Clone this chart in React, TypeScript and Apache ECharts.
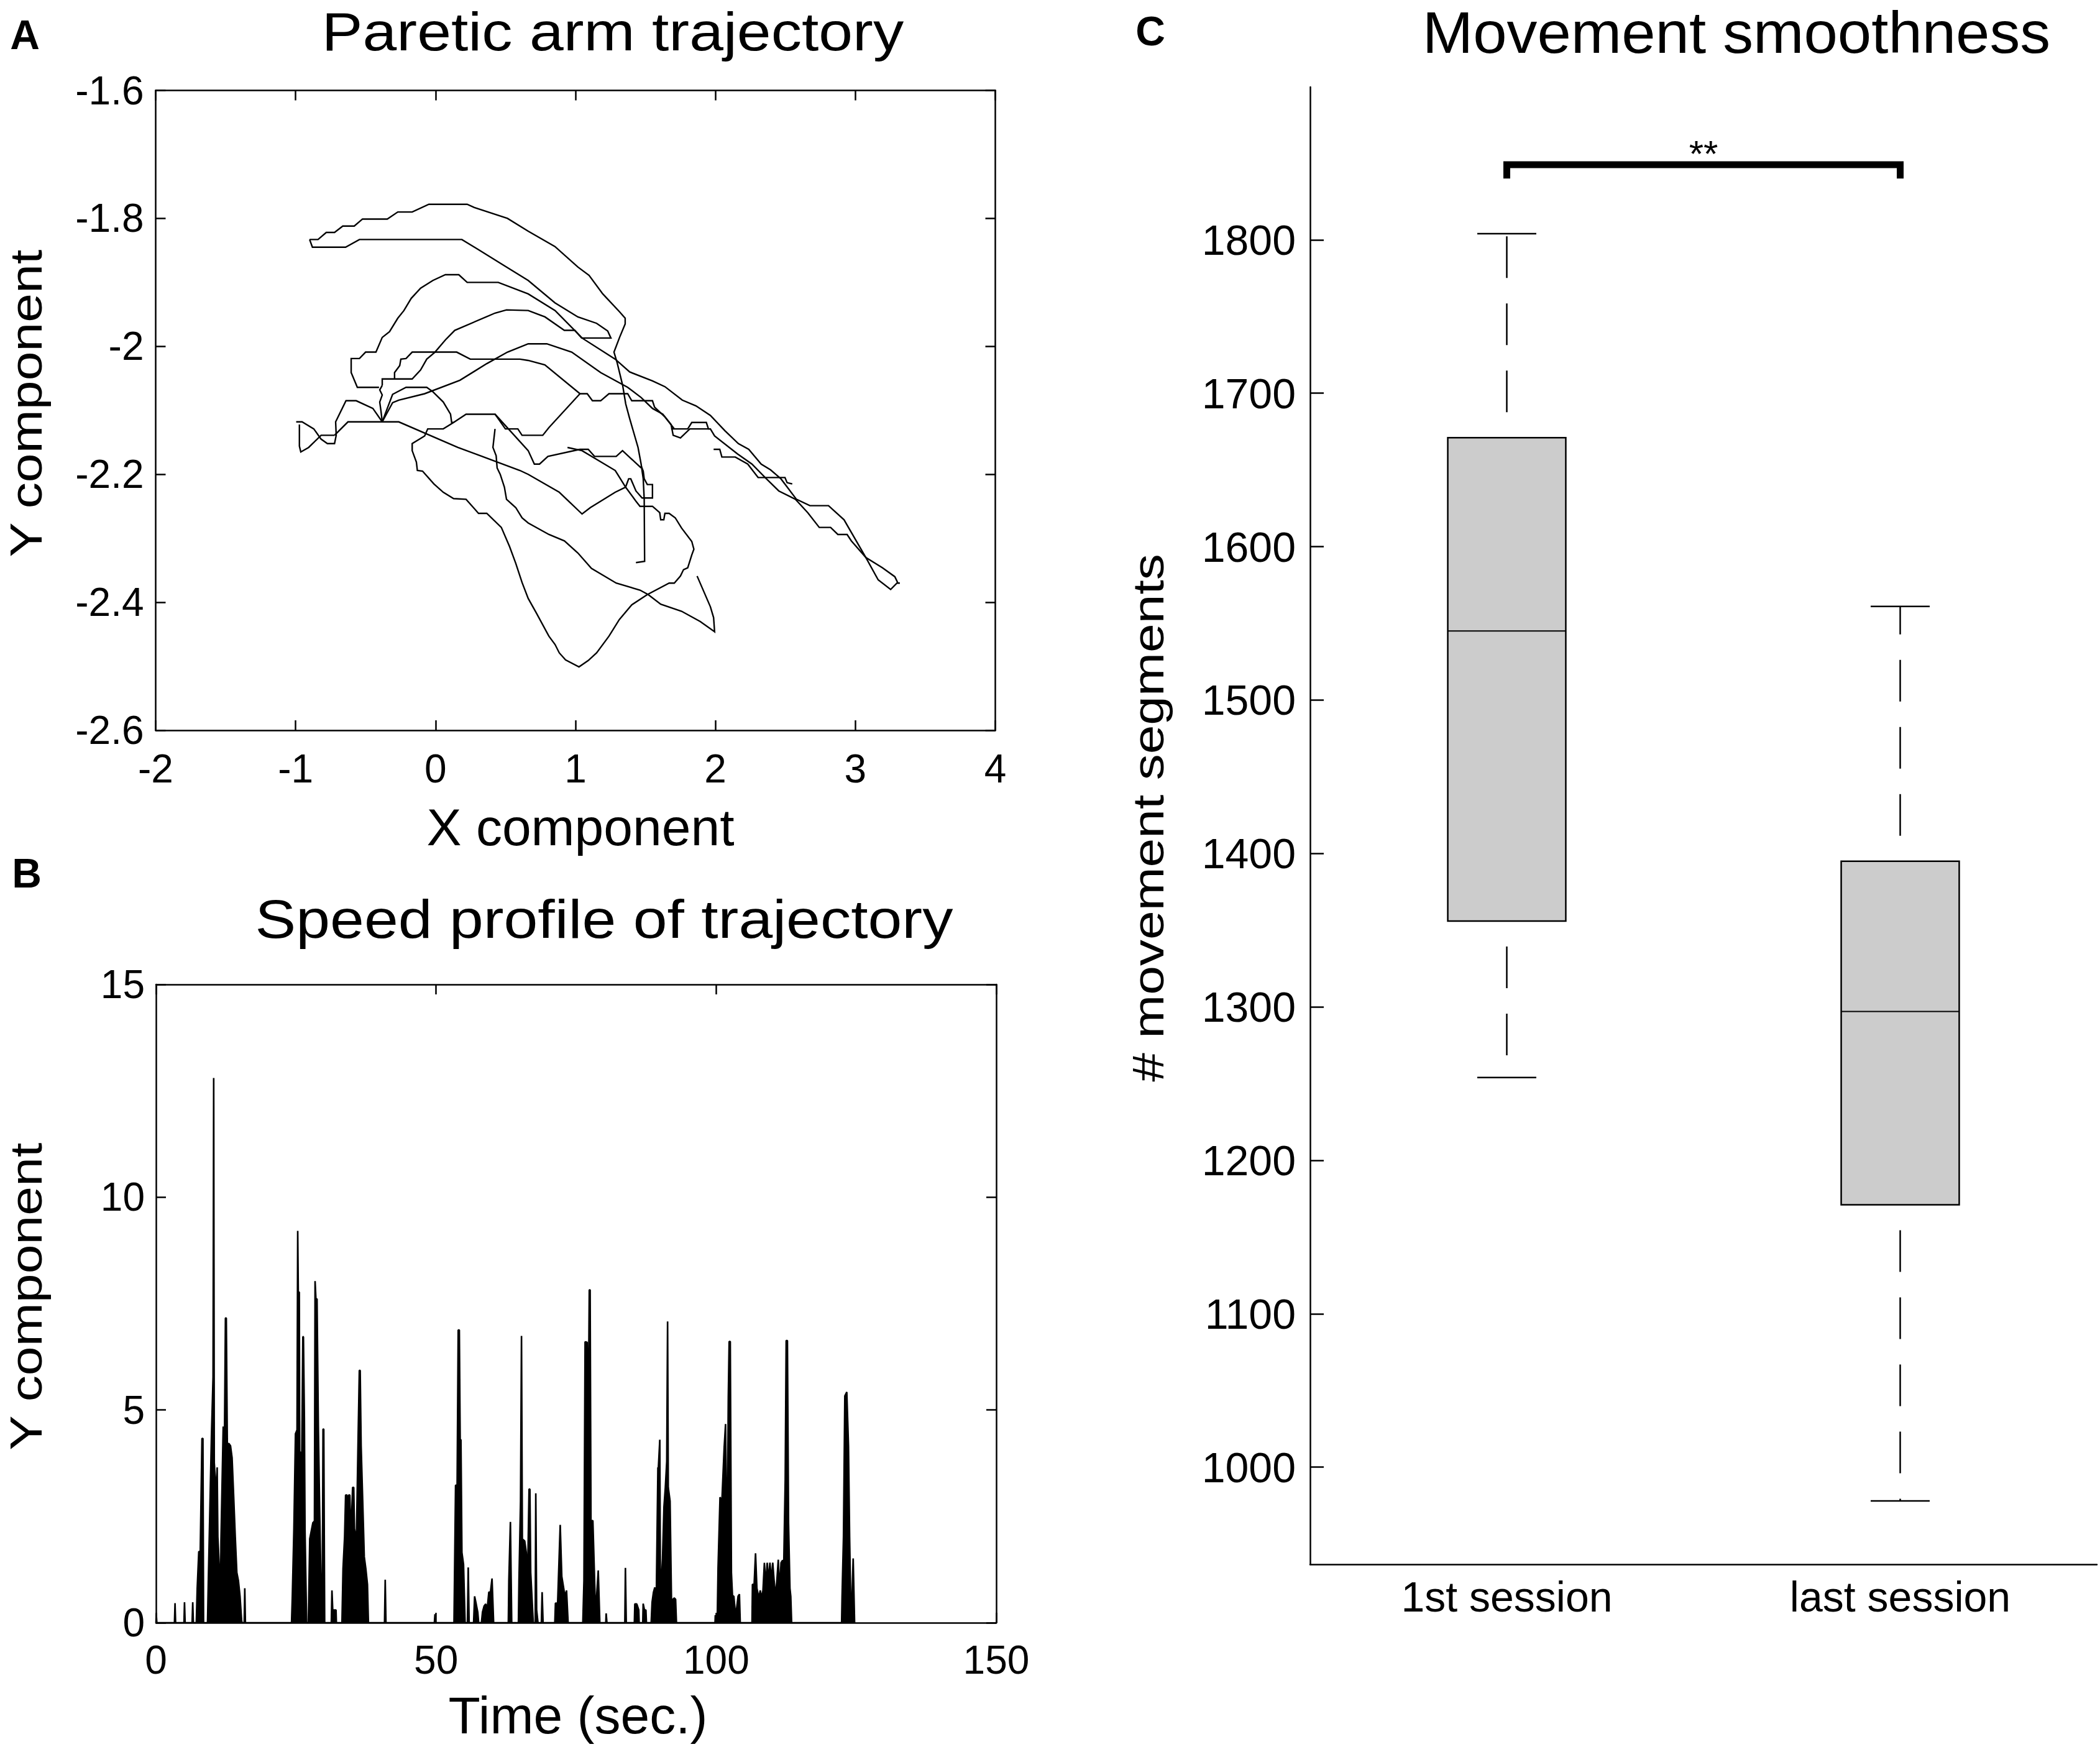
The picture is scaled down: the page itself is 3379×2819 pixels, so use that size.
import React, { useEffect, useRef } from 'react';
import * as echarts from 'echarts';

const W = 3379;
const H = 2819;
const FONT = '"Liberation Sans", Arial, Helvetica, sans-serif';

// ---------------- Panel A : paretic arm trajectory (x, y) ----------------
const trajTopArc = [[-0.900,-1.833],[-0.840,-1.833],[-0.781,-1.822],[-0.722,-1.822],[-0.663,-1.812],[-0.581,-1.812],[-0.522,-1.801],[-0.345,-1.801],[-0.270,-1.790],[-0.167,-1.790],[-0.048,-1.778],[0.226,-1.778],[0.277,-1.783],[0.514,-1.800],[0.662,-1.820],[0.853,-1.844],[1.017,-1.876],[1.097,-1.889],[1.195,-1.918],[1.315,-1.946],[1.355,-1.956],[1.355,-1.965],[1.315,-1.986],[1.275,-2.009],[1.297,-2.025],[1.337,-2.061],[1.359,-2.090],[1.386,-2.112],[1.447,-2.158],[1.469,-2.184],[1.484,-2.207],[1.491,-2.239],[1.494,-2.336],[1.432,-2.338]];
const trajTopLower = [[-0.900,-1.833],[-0.880,-1.845],[-0.643,-1.845],[-0.544,-1.833],[0.188,-1.833],[0.307,-1.849],[0.484,-1.873],[0.662,-1.897],[0.853,-1.932],[1.017,-1.954],[1.151,-1.964],[1.230,-1.976],[1.253,-1.987],[1.044,-1.987],[0.995,-1.975],[0.920,-1.975],[0.782,-1.954],[0.662,-1.944],[0.507,-1.943],[0.425,-1.948],[0.137,-1.975],[0.070,-1.990],[-0.004,-2.009],[-0.063,-2.020],[-0.107,-2.037],[-0.167,-2.051],[-0.381,-2.051],[-0.381,-2.061]];
const trajArcTwo = [[-0.404,-2.064],[-0.559,-2.064],[-0.603,-2.041],[-0.603,-2.019],[-0.544,-2.019],[-0.500,-2.009],[-0.426,-2.009],[-0.381,-1.986],[-0.329,-1.977],[-0.270,-1.956],[-0.226,-1.944],[-0.174,-1.925],[-0.107,-1.909],[-0.019,-1.897],[0.070,-1.888],[0.166,-1.888],[0.226,-1.900],[0.448,-1.900],[0.662,-1.918],[0.854,-1.944],[1.003,-1.977],[1.047,-1.987],[1.284,-2.020],[1.387,-2.040],[1.550,-2.054],[1.639,-2.063],[1.763,-2.084],[1.861,-2.093],[1.964,-2.108],[2.068,-2.132],[2.164,-2.152],[2.238,-2.161],[2.327,-2.184],[2.394,-2.193],[2.468,-2.207],[2.579,-2.239],[2.675,-2.249],[2.808,-2.249],[2.919,-2.271],[3.075,-2.330],[3.163,-2.365],[3.252,-2.380],[3.297,-2.370],[3.318,-2.370]];
const trajArcFour = [[-0.293,-2.051],[-0.293,-2.041],[-0.256,-2.030],[-0.248,-2.020],[-0.211,-2.019],[-0.167,-2.009],[0.151,-2.009],[0.248,-2.020],[0.603,-2.020],[0.662,-2.022],[0.781,-2.029],[1.032,-2.074],[1.084,-2.074],[1.121,-2.085],[1.180,-2.085],[1.239,-2.074],[1.373,-2.074],[1.402,-2.085],[1.550,-2.085],[1.565,-2.095],[1.638,-2.110],[1.706,-2.129]];
const trajArcFive = [[-0.381,-2.118],[-0.307,-2.088],[-0.263,-2.084],[-0.078,-2.074],[0.174,-2.053],[0.366,-2.027],[0.514,-2.009],[0.662,-1.996],[0.795,-1.996],[0.973,-2.009],[1.180,-2.041],[1.373,-2.064],[1.469,-2.080],[1.550,-2.097],[1.624,-2.106],[1.683,-2.122],[1.698,-2.139],[1.750,-2.143],[1.817,-2.129],[1.964,-2.129],[1.994,-2.140],[2.157,-2.168],[2.261,-2.184],[2.364,-2.207],[2.453,-2.226],[2.572,-2.239],[2.660,-2.260],[2.742,-2.283],[2.823,-2.283],[2.875,-2.294],[2.941,-2.294],[2.971,-2.304],[3.075,-2.330],[3.193,-2.346],[3.282,-2.360],[3.304,-2.370]];
const trajZigzag = [[1.987,-2.161],[2.031,-2.161],[2.046,-2.173],[2.142,-2.173],[2.231,-2.184],[2.305,-2.205],[2.497,-2.205],[2.512,-2.213],[2.549,-2.215]];
const trajMiddle = [[-0.722,-2.139],[-0.626,-2.118],[-0.263,-2.118],[0.159,-2.158],[0.321,-2.171],[0.603,-2.194],[0.662,-2.200],[0.884,-2.228],[1.047,-2.262],[1.106,-2.252],[1.284,-2.228],[1.358,-2.220],[1.380,-2.207],[1.395,-2.207],[1.432,-2.226],[1.476,-2.237],[1.550,-2.237],[1.550,-2.216],[1.513,-2.216],[1.491,-2.207],[1.484,-2.195],[1.469,-2.187]];
const trajBulb = [[1.032,-2.074],[0.810,-2.127],[0.766,-2.139],[0.618,-2.139],[0.588,-2.129],[0.499,-2.129],[0.425,-2.106],[0.218,-2.106],[0.129,-2.119],[0.055,-2.129],[-0.056,-2.129],[-0.078,-2.140],[-0.167,-2.152],[-0.167,-2.163],[-0.137,-2.181],[-0.130,-2.194],[-0.093,-2.195],[-0.012,-2.215],[0.055,-2.228],[0.129,-2.238],[0.218,-2.239],[0.307,-2.261],[0.366,-2.261],[0.470,-2.283],[0.529,-2.313],[0.573,-2.339],[0.618,-2.369],[0.662,-2.394],[0.721,-2.417],[0.810,-2.453],[0.854,-2.466],[0.884,-2.479],[0.929,-2.490],[1.025,-2.501],[1.091,-2.491],[1.151,-2.479],[1.239,-2.453],[1.313,-2.427],[1.402,-2.404],[1.513,-2.388],[1.669,-2.370],[1.706,-2.370],[1.750,-2.359],[1.772,-2.349],[1.802,-2.346],[1.831,-2.326],[1.846,-2.317],[1.831,-2.305],[1.758,-2.284],[1.713,-2.268],[1.669,-2.261],[1.639,-2.261],[1.631,-2.271],[1.609,-2.271],[1.602,-2.260],[1.550,-2.250],[1.461,-2.250],[1.432,-2.242],[1.358,-2.220],[1.284,-2.194],[1.047,-2.163],[0.943,-2.158]];
const trajLowerLoop = [[0.425,-2.129],[0.410,-2.158],[0.433,-2.171],[0.440,-2.190],[0.462,-2.200],[0.492,-2.220],[0.507,-2.239],[0.573,-2.252],[0.618,-2.268],[0.662,-2.276],[0.810,-2.294],[0.921,-2.304],[1.017,-2.323],[1.114,-2.347],[1.291,-2.370],[1.461,-2.381],[1.520,-2.388],[1.609,-2.403],[1.758,-2.414],[1.891,-2.430],[1.994,-2.446],[1.987,-2.424],[1.964,-2.407],[1.869,-2.359]];
const trajDiagonal = [[0.425,-2.106],[0.662,-2.163],[0.706,-2.184],[0.743,-2.184],[0.803,-2.172],[1.032,-2.161],[1.091,-2.161],[1.136,-2.172],[1.291,-2.172],[1.336,-2.163],[1.469,-2.190]];
const trajHookF = [[-0.381,-2.118],[-0.345,-2.097],[-0.307,-2.075],[-0.211,-2.064],[-0.063,-2.064],[-0.019,-2.071],[0.055,-2.087],[0.107,-2.106],[0.115,-2.119],[0.129,-2.119]];
const trajHookG = [[-0.381,-2.118],[-0.390,-2.101],[-0.399,-2.087],[-0.381,-2.076],[-0.399,-2.068],[-0.381,-2.061]];
const trajLeftBump = [[-0.996,-2.118],[-0.954,-2.118],[-0.870,-2.129],[-0.818,-2.145],[-0.773,-2.152],[-0.722,-2.152],[-0.710,-2.139],[-0.714,-2.118],[-0.640,-2.085],[-0.567,-2.085],[-0.448,-2.097],[-0.381,-2.118]];
const trajLeftTail = [[-0.973,-2.122],[-0.973,-2.156],[-0.963,-2.165],[-0.907,-2.158],[-0.818,-2.139],[-0.722,-2.139]];
const trajSmall = [[1.683,-2.129],[1.802,-2.129],[1.831,-2.119],[1.935,-2.119],[1.950,-2.129],[1.964,-2.129]];
const trajectoryStrokes = [trajTopArc, trajTopLower, trajArcTwo, trajArcFour, trajArcFive, trajZigzag, trajMiddle, trajBulb, trajLowerLoop, trajDiagonal, trajHookF, trajHookG, trajLeftBump, trajLeftTail, trajSmall];

const aXRange = [-2, 4, 1];
const aYRange = [-2.6, -1.6, 0.2];

// ---------------- Panel B : speed profile (time sec, speed) ----------------
const speedProfile = [
  [0,0],[0.05,0.2],[0.15,0],
  [3.3,0],[3.4,0.46],[3.5,0],[5.0,0],[5.09,0.48],[5.2,0],[6.45,0],[6.56,0.48],[6.67,0],
  [7.2,0],[7.36,0.81],[7.64,1.67],[7.9,1.67],[8.21,4.33],[8.38,4.33],[8.49,0],
  [9.2,0],[9.34,0.95],[9.9,4.39],[10.19,5.78],[10.30,12.8],[10.40,3.76],[10.75,3.04],[10.92,3.65],[11.04,2.02],[11.32,1.27],[11.49,0],
  [11.55,0],[11.6,1.92],[12.0,4.61],[12.22,4.26],[12.4,7.16],[12.55,7.16],[12.73,4.21],[13.02,4.21],[13.3,4.16],[13.58,3.88],[13.87,2.95],[14.15,2.02],[14.43,1.18],[14.71,0.99],[15.0,0.62],[15.28,0.06],[15.35,0],
  [15.75,0],[15.85,0.81],[15.96,0],
  [24.2,0],[24.34,0.62],[24.62,2.21],[24.9,4.44],[25.18,4.53],[25.3,9.21],[25.4,7.77],[25.58,7.77],[25.65,4.02],[26.03,3.98],[26.22,6.72],[26.32,6.72],[26.49,4.81],[26.6,2.21],[26.88,0],
  [27.2,0],[27.45,1.97],[28.01,2.35],[28.29,2.39],[28.4,8.03],[28.55,7.61],[28.75,7.61],[28.98,4.63],[29.2,2.77],[29.43,1.09],[29.71,1.09],[29.82,4.55],[29.95,4.55],[30.11,0],
  [31.3,0],[31.41,0.76],[31.55,0.3],[32.14,0.3],[32.2,0],
  [33.2,0],[33.39,1.27],[33.67,2.02],[33.85,3.0],[34.1,3.0],[34.24,2.02],[34.4,3.0],[34.6,3.0],[34.8,2.02],[35.1,3.18],[35.3,3.18],[35.43,2.21],[35.77,1.92],[36.11,4.53],[36.3,5.93],[36.45,5.93],[36.62,4.16],[36.9,2.86],[37.18,1.55],[37.46,1.27],[37.75,0.9],[37.92,0],
  [40.8,0],[40.92,1.01],[41.05,0],[49.7,0],[49.8,0.2],[49.9,0],
  [53.2,0],[53.31,1.27],[53.48,3.23],[53.76,3.23],[53.95,6.88],[54.15,6.88],[54.3,4.30],[54.44,4.30],[54.61,1.65],[54.9,1.37],[55.18,0],
  [55.6,0],[55.74,1.30],[55.9,0],
  [56.7,0],[56.88,0.62],[57.16,0.44],[57.44,0.25],[57.6,0],[58.1,0],[58.29,0.25],[58.57,0.39],[58.86,0.44],[59.14,0.34],[59.42,0.72],[59.71,0.72],[59.99,1.04],[60.27,0],
  [62.9,0],[62.99,0.99],[63.27,2.37],[63.5,0],
  [64.7,0],[64.8,0.99],[65.08,2.86],[65.25,6.74],[65.4,1.97],[65.82,1.92],[66.1,1.65],[66.33,0.99],[66.6,3.14],[66.75,3.14],[66.89,1.18],[67.35,0],
  [67.7,0],[67.8,3.04],[67.95,0.3],[68.19,0],[68.8,0],[68.93,0.72],[69.1,0],
  [71.2,0],[71.31,0.46],[71.7,0.46],[72.16,2.30],[72.44,1.09],[73.01,0.62],[73.29,0.76],[73.57,0],
  [76.2,0],[76.4,0.99],[76.6,6.60],[76.97,6.59],[77.14,4.21],[77.35,7.82],[77.5,7.82],[77.65,2.40],[77.99,2.40],[78.38,0.62],[78.66,0.62],[78.95,1.23],[79.23,0],
  [80.3,0],[80.36,0.22],[80.5,0],[83.7,0],[83.8,1.29],[83.95,0],
  [85.4,0],[85.48,0.44],[85.83,0.44],[86.18,0.3],[86.25,0],[86.9,0],[86.97,0.45],[87.2,0.3],[87.46,0.3],[87.55,0],
  [88.4,0],[88.56,0.48],[88.8,0.71],[89.05,0.83],[89.3,0.44],[89.6,3.65],[89.69,3.65],[89.94,4.30],[90.05,0.62],[90.43,1.51],[90.68,2.72],[90.93,3.18],[91.18,3.79],[91.33,7.08],[91.45,3.18],[91.77,2.86],[92.02,0.53],[92.27,0.55],[92.52,0.58],[92.76,0.55],[92.91,0],
  [99.8,0],[99.85,0.18],[99.95,0],
  [100.19,0],[100.34,1.29],[100.69,2.95],[101.03,2.87],[101.43,4.11],[101.68,4.67],[101.93,1.18],[102.17,5.30],[102.32,6.61],[102.52,6.61],[102.72,1.18],[102.91,0.64],[103.16,0.62],[103.41,0.25],[103.66,0.34],[103.91,0.62],[104.15,0.67],[104.3,0],
  [106.4,0],[106.48,0.9],[106.78,0.9],[107.03,1.63],[107.27,0.81],[107.62,0.58],[107.87,0.76],[108.12,0.58],[108.36,0.76],[108.61,1.41],[108.86,0.9],[109.11,1.41],[109.35,0.99],[109.6,1.41],[109.85,0.99],[110.1,1.41],[110.34,0.99],[110.59,0.62],[110.84,0.99],[111.09,1.48],[111.34,0.76],[111.58,1.41],[111.83,1.46],[112.08,1.46],[112.33,3.37],[112.5,6.63],[112.72,6.63],[112.92,2.34],[113.17,0.81],[113.32,0.62],[113.47,0],
  [122.4,0],[122.48,0.62],[122.73,2.02],[122.97,5.33],[123.32,5.42],[123.62,4.16],[123.82,2.02],[124.01,0.62],[124.21,0.34],[124.46,1.51],[124.71,0]
];
const bXRange = [0, 150, 50];
const bYRange = [0, 15, 5];

// ---------------- Panel C : movement smoothness boxplot ----------------
const sessionCategories = ['1st session', 'last session'];
const segWhiskerLow = [1254, 978];
const segQ1 = [1356, 1171];
const segMedian = [1545, 1297];
const segQ3 = [1671, 1395];
const segWhiskerHigh = [1804, 1561];
const cYMin = 936.7;
const cYMax = 1899.6;
const cYTicks = [1000, 1100, 1200, 1300, 1400, 1500, 1600, 1700, 1800];
const bracketLevel = 1849;
const bracketDrop = 1840;
const sigLabel = '**';

const black = '#000';

function frameAxis(gridIndex: number, position: string, range: number[], showLabel: boolean, extra: any = {}) {
  return {
    type: 'value',
    gridIndex,
    position,
    min: range[0],
    max: range[1],
    interval: range[2],
    axisLine: { show: true, onZero: false, lineStyle: { color: black, width: 2.5 } },
    axisTick: { show: true, inside: true, length: 16, lineStyle: { color: black, width: 2.5 } },
    axisLabel: { show: showLabel, color: black, fontSize: 64, fontFamily: FONT, ...(extra.axisLabel || {}) },
    splitLine: { show: false },
  };
}

function txt(x: number, y: number, text: string, size: number, extra: any = {}) {
  return {
    type: 'text',
    x,
    y,
    rotation: extra.rotation || 0,
    scaleX: extra.scaleX || 1,
    silent: true,
    style: {
      text,
      fill: black,
      fontSize: size,
      fontFamily: FONT,
      fontWeight: extra.bold ? 'bold' : 'normal',
      align: 'center',
      verticalAlign: 'middle',
    },
  };
}

function buildOption() {
  const trajSeries = trajectoryStrokes.map((s) => ({
    type: 'line',
    xAxisIndex: 0,
    yAxisIndex: 0,
    data: s,
    showSymbol: false,
    symbol: 'none',
    silent: true,
    lineStyle: { color: black, width: 2.4, join: 'miter' },
  }));

  const boxData = sessionCategories.map((c, i) => [i, segWhiskerLow[i], segQ1[i], segMedian[i], segQ3[i], segWhiskerHigh[i]]);

  return {
    animation: false,
    backgroundColor: '#fff',
    textStyle: { fontFamily: FONT },
    grid: [
      { left: 250.5, top: 145.5, width: 1351, height: 1029.5, outerBoundsMode: 'none' },
      { left: 251, top: 1584, width: 1352, height: 1027, outerBoundsMode: 'none' },
      { left: 2108, top: 140, width: 1266, height: 2377, outerBoundsMode: 'none' },
    ],
    xAxis: [
      frameAxis(0, 'bottom', aXRange, true, { axisLabel: { margin: 30 } }),
      frameAxis(0, 'top', aXRange, false),
      frameAxis(1, 'bottom', bXRange, true, { axisLabel: { margin: 28 } }),
      frameAxis(1, 'top', bXRange, false),
      {
        type: 'category',
        gridIndex: 2,
        position: 'bottom',
        data: sessionCategories,
        boundaryGap: true,
        axisLine: { show: true, onZero: false, lineStyle: { color: black, width: 2.5 } },
        axisTick: { show: false },
        axisLabel: { color: black, fontSize: 68, fontFamily: FONT, margin: 18 },
        splitLine: { show: false },
      },
    ],
    yAxis: [
      frameAxis(0, 'left', aYRange, true, { axisLabel: { margin: 19 } }),
      frameAxis(0, 'right', aYRange, false),
      frameAxis(1, 'left', bYRange, true, { axisLabel: { margin: 18 } }),
      frameAxis(1, 'right', bYRange, false),
      {
        type: 'value',
        gridIndex: 2,
        position: 'left',
        min: cYMin,
        max: cYMax,
        axisLine: { show: true, onZero: false, lineStyle: { color: black, width: 2.5 } },
        axisTick: { show: true, inside: true, length: 22, customValues: cYTicks, lineStyle: { color: black, width: 2.5 } },
        axisLabel: {
          color: black, fontSize: 68, fontFamily: FONT, margin: 23, customValues: cYTicks,
          formatter: (v: number) => (Math.abs(v % 100) < 1e-6 ? String(v) : ''),
        },
        splitLine: { show: false },
      },
    ],
    series: [
      ...trajSeries,
      {
        type: 'line',
        xAxisIndex: 2,
        yAxisIndex: 2,
        data: speedProfile,
        showSymbol: false,
        symbol: 'none',
        silent: true,
        lineStyle: { color: black, width: 2.6 },
        areaStyle: { color: black, opacity: 1 },
      },
      {
        type: 'custom',
        xAxisIndex: 4,
        yAxisIndex: 4,
        silent: true,
        data: boxData,
        encode: { x: 0, y: [1, 2, 3, 4, 5] },
        renderItem: (params: any, api: any) => {
          const i = api.value(0);
          const pLo = api.coord([i, api.value(1)]);
          const pQ1 = api.coord([i, api.value(2)]);
          const pMd = api.coord([i, api.value(3)]);
          const pQ3 = api.coord([i, api.value(4)]);
          const pHi = api.coord([i, api.value(5)]);
          const band = api.size([1, 0])[0];
          const bw = band * 0.3;
          const cw = bw * 0.5;
          const cx = pMd[0];
          const dash = { stroke: black, lineWidth: 2.5, lineDash: [67, 41], lineDashOffset: 67, fill: null };
          const solid = { stroke: black, lineWidth: 2.5, fill: null };
          return {
            type: 'group',
            children: [
              { type: 'line', shape: { x1: cx, y1: pQ3[1], x2: cx, y2: pHi[1] }, style: dash },
              { type: 'line', shape: { x1: cx, y1: pQ1[1], x2: cx, y2: pLo[1] }, style: dash },
              { type: 'line', shape: { x1: cx - cw / 2, y1: pHi[1], x2: cx + cw / 2, y2: pHi[1] }, style: solid },
              { type: 'line', shape: { x1: cx - cw / 2, y1: pLo[1], x2: cx + cw / 2, y2: pLo[1] }, style: solid },
              { type: 'rect', shape: { x: cx - bw / 2, y: pQ3[1], width: bw, height: pQ1[1] - pQ3[1] }, style: { fill: '#cccccc', stroke: black, lineWidth: 2.5 } },
              { type: 'line', shape: { x1: cx - bw / 2, y1: pMd[1], x2: cx + bw / 2, y2: pMd[1] }, style: { stroke: black, lineWidth: 2 } },
            ],
          };
        },
      },
      {
        type: 'custom',
        xAxisIndex: 4,
        yAxisIndex: 4,
        silent: true,
        data: [[0, 1, bracketLevel, bracketDrop]],
        encode: { x: [0, 1], y: [2, 3] },
        renderItem: (params: any, api: any) => {
          const a = api.coord([api.value(0), api.value(3)]);
          const b = api.coord([api.value(0), api.value(2)]);
          const c = api.coord([api.value(1), api.value(2)]);
          const d = api.coord([api.value(1), api.value(3)]);
          return {
            type: 'group',
            children: [
              { type: 'polyline', shape: { points: [a, b, c, d] }, style: { stroke: black, lineWidth: 11, fill: null, lineJoin: 'miter', lineCap: 'butt' } },
              { type: 'text', x: (b[0] + c[0]) / 2, y: b[1] - 17, style: { text: sigLabel, fill: black, fontSize: 60, fontFamily: FONT, align: 'center', verticalAlign: 'middle' } },
            ],
          };
        },
      },
    ],
    graphic: [
      txt(40, 56, 'A', 66, { bold: true }),
      txt(43, 1405, 'B', 66, { bold: true }),
      txt(1851, 50, 'C', 66, { bold: true }),
      txt(986, 50, 'Paretic arm trajectory', 88, { scaleX: 1.12 }),
      txt(972, 1478, 'Speed profile of trajectory', 88, { scaleX: 1.12 }),
      txt(2794, 52, 'Movement smoothness', 94, { scaleX: 1.04 }),
      txt(934, 1331, 'X component', 84),
      txt(42, 649, 'Y component', 72, { rotation: Math.PI / 2, scaleX: 1.17 }),
      txt(930, 2760, 'Time (sec.)', 84),
      txt(42, 2086, 'Y component', 72, { rotation: Math.PI / 2, scaleX: 1.17 }),
      txt(1848, 1316, '# movement segments', 70, { rotation: Math.PI / 2, scaleX: 1.2 }),
    ],
  };
}

export default function App() {
  const ref = useRef<HTMLDivElement>(null);
  useEffect(() => {
    if (!ref.current) return;
    const chart = echarts.init(ref.current, null, { renderer: 'svg', width: W, height: H });
    chart.setOption(buildOption() as any);
    return () => chart.dispose();
  }, []);
  return (
    <div
      ref={ref}
      style={{ position: 'absolute', left: 0, top: 0, width: W, height: H, background: '#fff' }}
    />
  );
}
